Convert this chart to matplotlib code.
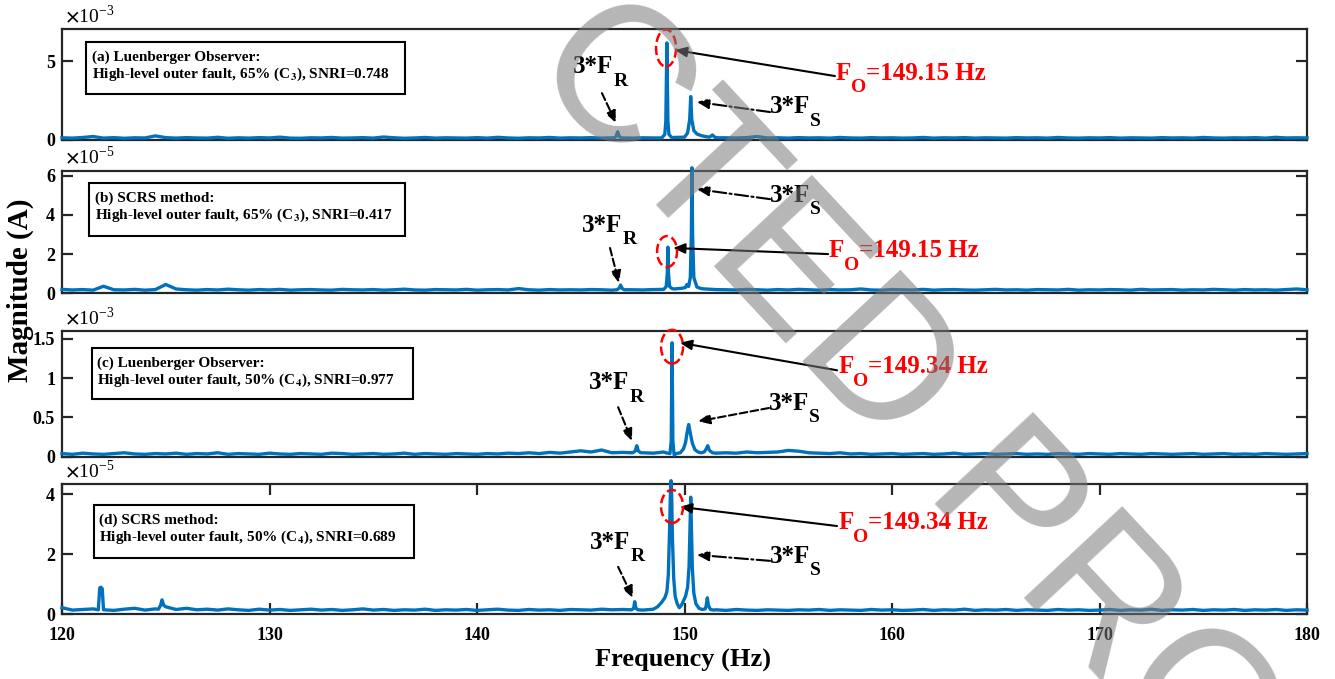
import numpy as np
import matplotlib
matplotlib.use('Agg')
import matplotlib.pyplot as plt
from matplotlib.patches import Ellipse, Rectangle

plt.rcParams['font.family'] = 'Liberation Serif'
plt.rcParams['font.weight'] = 'bold'
plt.rcParams['mathtext.fontset'] = 'stix'

# frequency grid of the noise floor (Hz)
freq = np.arange(120, 180.01, 0.5)

# ---- panel (a): Luenberger observer, C3, units 1e-3 A
floor_a = [0.14, 0.12, 0.16, 0.22, 0.12, 0.15, 0.11, 0.14, 0.13, 0.26,
           0.15, 0.12, 0.15, 0.13, 0.12, 0.17, 0.11, 0.14, 0.12, 0.15,
           0.13, 0.18, 0.12, 0.11, 0.14, 0.13, 0.16, 0.12, 0.13, 0.15,
           0.12, 0.19, 0.14, 0.11, 0.13, 0.16, 0.12, 0.14, 0.13, 0.12,
           0.15, 0.12, 0.17, 0.13, 0.11, 0.14, 0.13, 0.16, 0.12, 0.14,
           0.13, 0.15, 0.12, 0.14, 0.13, 0.12, 0.14, 0.13, 0.12, 0.16,
           0.22, 0.40, 0.22, 0.16, 0.14, 0.13, 0.15, 0.22, 0.13, 0.14,
           0.12, 0.15, 0.13, 0.14, 0.12, 0.16, 0.13, 0.12, 0.15, 0.13,
           0.14, 0.12, 0.13, 0.16, 0.12, 0.14, 0.13, 0.15, 0.12, 0.14,
           0.13, 0.12, 0.15, 0.13, 0.14, 0.12, 0.16, 0.13, 0.12, 0.14,
           0.13, 0.15, 0.12, 0.14, 0.13, 0.12, 0.15, 0.13, 0.14, 0.12,
           0.16, 0.13, 0.12, 0.14, 0.13, 0.15, 0.12, 0.17, 0.13, 0.14,
           0.13]
peaks_a = [
    ([146.6, 146.7, 146.78, 146.86, 146.95], [0.13, 0.22, 0.52, 0.22, 0.13]),
    ([148.9, 149.05, 149.1, 149.15, 149.2, 149.25, 149.4],
     [0.13, 0.35, 1.2, 6.15, 1.2, 0.35, 0.14]),
    ([150.0, 150.15, 150.25, 150.3, 150.35, 150.45, 150.6, 150.8, 151.0, 151.2, 151.35, 151.45, 151.6],
     [0.18, 0.45, 1.3, 2.75, 1.3, 0.6, 0.38, 0.28, 0.22, 0.18, 0.32, 0.18, 0.14]),
]

# ---- panel (b): SCRS method, C3, units 1e-5 A
floor_b = [0.20, 0.17, 0.19, 0.16, 0.36, 0.18, 0.17, 0.20, 0.16, 0.19,
           0.45, 0.22, 0.18, 0.16, 0.19, 0.17, 0.21, 0.18, 0.16, 0.19,
           0.17, 0.20, 0.16, 0.18, 0.19, 0.17, 0.16, 0.20, 0.18, 0.17,
           0.19, 0.16, 0.18, 0.21, 0.17, 0.16, 0.19, 0.18, 0.17, 0.20,
           0.16, 0.18, 0.19, 0.17, 0.24, 0.18, 0.16, 0.19, 0.17, 0.18,
           0.17, 0.19, 0.18, 0.16, 0.20, 0.18, 0.17, 0.19, 0.18, 0.22,
           0.25, 0.30, 0.22, 0.19, 0.18, 0.17, 0.20, 0.18, 0.16, 0.19,
           0.17, 0.20, 0.18, 0.16, 0.19, 0.17, 0.18, 0.22, 0.17, 0.16,
           0.19, 0.18, 0.17, 0.20, 0.16, 0.18, 0.19, 0.17, 0.16, 0.18,
           0.20, 0.17, 0.18, 0.16, 0.19, 0.18, 0.17, 0.20, 0.16, 0.18,
           0.17, 0.19, 0.18, 0.16, 0.20, 0.17, 0.18, 0.19, 0.16, 0.18,
           0.17, 0.20, 0.18, 0.16, 0.19, 0.17, 0.18, 0.16, 0.19, 0.22,
           0.18]
peaks_b = [
    ([146.75, 146.85, 146.92, 147.0, 147.1], [0.18, 0.26, 0.42, 0.24, 0.18]),
    ([149.0, 149.12, 149.17, 149.2, 149.23, 149.28, 149.4],
     [0.2, 0.35, 1.0, 2.35, 1.0, 0.35, 0.24]),
    ([149.9, 150.05, 150.12, 150.2, 150.28, 150.33, 150.36, 150.39, 150.45, 150.6, 150.8],
     [0.26, 0.3, 0.45, 0.35, 0.8, 3.0, 6.4, 3.0, 0.8, 0.32, 0.24]),
]

# ---- panel (c): Luenberger observer, C4, units 1e-3 A
floor_c = [0.04, 0.03, 0.045, 0.035, 0.03, 0.04, 0.05, 0.035, 0.03, 0.04,
           0.035, 0.045, 0.03, 0.04, 0.035, 0.05, 0.03, 0.04, 0.035, 0.03,
           0.045, 0.035, 0.03, 0.04, 0.035, 0.03, 0.045, 0.04, 0.03, 0.035,
           0.04, 0.03, 0.035, 0.045, 0.03, 0.04, 0.035, 0.03, 0.04, 0.035,
           0.03, 0.04, 0.035, 0.045, 0.04, 0.05, 0.04, 0.055, 0.045, 0.06,
           0.075, 0.06, 0.085, 0.05, 0.055, 0.06, 0.05, 0.045, 0.06, 0.04,
           0.10, 0.12, 0.06, 0.045, 0.05, 0.045, 0.06, 0.05, 0.055, 0.06,
           0.08, 0.07, 0.05, 0.045, 0.04, 0.05, 0.035, 0.04, 0.03, 0.035,
           0.04, 0.03, 0.035, 0.04, 0.03, 0.035, 0.045, 0.03, 0.035, 0.04,
           0.03, 0.035, 0.04, 0.03, 0.035, 0.03, 0.04, 0.035, 0.03, 0.04,
           0.035, 0.03, 0.04, 0.035, 0.03, 0.04, 0.035, 0.03, 0.035, 0.04,
           0.03, 0.035, 0.04, 0.03, 0.035, 0.03, 0.04, 0.035, 0.03, 0.035,
           0.04]
peaks_c = [
    ([147.5, 147.62, 147.7, 147.78, 147.9], [0.05, 0.07, 0.14, 0.07, 0.05]),
    ([149.1, 149.3, 149.36, 149.4, 149.44, 149.5, 149.6],
     [0.05, 0.04, 0.2, 1.45, 0.2, 0.02, 0.04]),
    ([149.8, 149.95, 150.05, 150.12, 150.2, 150.28, 150.38, 150.5, 150.65, 150.8, 150.95, 151.05, 151.12, 151.2, 151.35],
     [0.05, 0.1, 0.18, 0.3, 0.41, 0.3, 0.17, 0.09, 0.06, 0.05, 0.06, 0.1, 0.14, 0.08, 0.05]),
]

# ---- panel (d): SCRS method, C4, units 1e-5 A
floor_d = [0.22, 0.14, 0.16, 0.18, 0.15, 0.13, 0.17, 0.20, 0.14, 0.18,
           0.25, 0.16, 0.20, 0.15, 0.17, 0.14, 0.18, 0.15, 0.13, 0.17,
           0.14, 0.16, 0.13, 0.15, 0.17, 0.14, 0.16, 0.13, 0.15, 0.18,
           0.14, 0.16, 0.13, 0.15, 0.14, 0.17, 0.13, 0.15, 0.14, 0.16,
           0.13, 0.15, 0.17, 0.14, 0.13, 0.16, 0.14, 0.15, 0.13, 0.16,
           0.15, 0.14, 0.17, 0.15, 0.16, 0.15, 0.14, 0.17, 0.20, 0.30,
           0.40, 0.30, 0.18, 0.15, 0.13, 0.16, 0.14, 0.13, 0.15, 0.14,
           0.13, 0.15, 0.14, 0.16, 0.13, 0.15, 0.14, 0.13, 0.16, 0.14,
           0.15, 0.13, 0.14, 0.16, 0.13, 0.15, 0.14, 0.17, 0.13, 0.15,
           0.14, 0.16, 0.13, 0.15, 0.14, 0.13, 0.16, 0.14, 0.15, 0.13,
           0.14, 0.16, 0.13, 0.15, 0.14, 0.17, 0.13, 0.15, 0.14, 0.16,
           0.13, 0.15, 0.14, 0.16, 0.13, 0.15, 0.14, 0.16, 0.13, 0.15,
           0.14]
peaks_d = [
    ([121.75, 121.82, 121.88, 121.94, 122.0], [0.15, 0.88, 0.9, 0.85, 0.15]),
    ([124.65, 124.75, 124.82, 124.9, 125.0], [0.17, 0.3, 0.48, 0.3, 0.25]),
    ([147.45, 147.55, 147.6, 147.66, 147.75], [0.15, 0.2, 0.42, 0.2, 0.15]),
    ([148.5, 148.7, 148.9, 149.05, 149.15, 149.22, 149.28, 149.32, 149.35, 149.38, 149.42,
      149.48, 149.55, 149.65, 149.75, 149.85, 149.95, 150.05, 150.15, 150.22, 150.27, 150.3,
      150.33, 150.38, 150.45, 150.55, 150.7, 150.85, 151.0, 151.05, 151.1, 151.15, 151.25, 151.4],
     [0.17, 0.25, 0.4, 0.55, 0.75, 1.3, 2.8, 4.0, 4.45, 4.0, 2.5,
      1.2, 0.6, 0.35, 0.22, 0.3, 0.45, 0.6, 0.9, 1.6, 3.0, 3.9,
      3.0, 1.5, 0.7, 0.35, 0.2, 0.16, 0.18, 0.3, 0.55, 0.3, 0.16, 0.14]),
]

box_titles = ['(a) Luenberger Observer:', '(b) SCRS method:',
              '(c) Luenberger Observer:', '(d) SCRS method:']
box_lines = ['High-level outer fault, 65% (C$_\\mathbf{3}$), SNRI=0.748',
             'High-level outer fault, 65% (C$_\\mathbf{3}$), SNRI=0.417',
             'High-level outer fault, 50% (C$_\\mathbf{4}$), SNRI=0.977',
             'High-level outer fault, 50% (C$_\\mathbf{4}$), SNRI=0.689']
fo_labels = ['=149.15 Hz', '=149.15 Hz', '=149.34 Hz', '=149.34 Hz']
exponents = ['-3', '-5', '-3', '-5']
ylims = [7.03, 6.25, 1.6, 4.33]
yticks = [[0, 5], [0, 2, 4, 6], [0, 0.5, 1, 1.5], [0, 2, 4]]
xticks = [120, 130, 140, 150, 160, 170, 180]


def build(floor, peaks):
    f = freq
    m = np.array(floor)
    keep = np.ones(len(f), bool)
    for pf, pm in peaks:
        keep &= ~((f >= pf[0]) & (f <= pf[-1]))
    ff = np.concatenate([f[keep]] + [np.array(p[0]) for p in peaks])
    mm = np.concatenate([m[keep]] + [np.array(p[1]) for p in peaks])
    o = np.argsort(ff)
    return ff[o], mm[o]


W, H = 1335, 679
fig = plt.figure(figsize=(W / 100, H / 100), dpi=100)
renderer = fig.canvas.get_renderer()


def sub_label(ax, x, y, parts, color, size=18):
    # parts: (string, is_subscript); placed one after the other, MATLAB style
    dx = 0.0
    for s, is_sub in parts:
        t = ax.annotate(s, xy=(x, y), xycoords='data',
                        xytext=(dx * 0.72, -9 if is_sub else 0), textcoords='offset points',
                        fontsize=size * 0.78 if is_sub else size, color=color,
                        ha='left', va='baseline', annotation_clip=False)
        dx += t.get_window_extent(renderer).width - (1 if is_sub else 0)


# axes rectangles in pixels: (top, bottom)
rows = [(29, 140), (170.7, 293.3), (331, 456.7), (484.3, 614.3)]
x_left, x_right = 62, 1307

# annotation positions per panel (data coords)
ann = [
    dict(ell=(149.11, 5.82, 0.96, 2.34), fo_txt=(157.3, 3.8), fo_arr=((157.25, 4.05), (149.54, 5.7)),
         fr_txt=(144.63, 4.24), fr_arr=((146.02, 2.97), (146.7, 1.08)),
         fs_txt=(154.12, 1.71), fs_arr=((154.12, 1.77), (150.6, 2.41)), fs_ls='-.'),
    dict(ell=(149.16, 2.13, 0.96, 1.58), fo_txt=(156.96, 1.85), fo_arr=((156.92, 2.0), (149.45, 2.31)),
         fr_txt=(145.06, 3.13), fr_arr=((146.41, 2.31), (146.84, 0.53)),
         fs_txt=(154.12, 4.66), fs_arr=((154.12, 4.8), (150.6, 5.31)), fs_ls='-.'),
    dict(ell=(149.4, 1.40, 1.06, 0.43), fo_txt=(157.4, 1.06), fo_arr=((157.35, 1.10), (149.78, 1.45)),
         fr_txt=(145.4, 0.86), fr_arr=((146.8, 0.63), (147.47, 0.2)),
         fs_txt=(154.07, 0.60), fs_arr=((154.07, 0.62), (150.65, 0.45)), fs_ls='--'),
    dict(ell=(149.4, 3.59, 1.06, 1.1), fo_txt=(157.4, 2.84), fo_arr=((157.35, 2.94), (149.78, 3.58)),
         fr_txt=(145.45, 2.18), fr_arr=((146.8, 1.58), (147.52, 0.54)),
         fs_txt=(154.12, 1.71), fs_arr=((154.12, 1.78), (150.6, 1.98)), fs_ls='-.'),
]

boxes = [(86, 42, 405, 94, 92), (89, 183, 405, 236, 95),
         (92, 348, 413, 399, 97), (94, 505, 414, 558, 99)]

floors = [floor_a, floor_b, floor_c, floor_d]
peaks = [peaks_a, peaks_b, peaks_c, peaks_d]
head = '-|>,head_length=0.7,head_width=0.3'

for i in range(4):
    top, bot = rows[i]
    ax = fig.add_axes([x_left / W, 1 - bot / H, (x_right - x_left) / W, (bot - top) / H])
    f, m = build(floors[i], peaks[i])
    ax.plot(f, m, color='#0072BD', lw=2.4, zorder=3, clip_on=False)
    ax.set_xlim(120, 180)
    ax.set_ylim(0, ylims[i])
    ax.set_yticks(yticks[i])
    ax.set_yticklabels(['%g' % v for v in yticks[i]])
    for s in ax.spines.values():
        s.set_linewidth(1.6)
        s.set_color('#262626')
    ax.tick_params(axis='y', direction='in', length=8, width=1.6, right=True,
                   labelsize=13, pad=5, color='#262626')
    if i == 3:
        ax.set_xticks(xticks)
        ax.tick_params(axis='x', direction='in', length=8, width=1.6, top=True,
                       labelsize=13, pad=9, color='#262626')
    else:
        ax.set_xticks([])

    ax.annotate(r'$\times$10$^{\mathregular{' + exponents[i] + '}}$', xy=(0, 1),
                xycoords='axes fraction', xytext=(2, 2), textcoords='offset points',
                ha='left', va='bottom', fontsize=14, fontweight='normal')

    a = ann[i]
    ex, ey, ew, eh = a['ell']
    ax.add_patch(Ellipse((ex, ey), ew, eh, fill=False, edgecolor='red',
                         linestyle='--', lw=1.8, zorder=4, clip_on=False))
    sub_label(ax, a['fo_txt'][0], a['fo_txt'][1],
              [('F', False), ('O', True), (fo_labels[i], False)], 'red')
    ax.annotate('', xy=a['fo_arr'][1], xytext=a['fo_arr'][0],
                arrowprops=dict(arrowstyle=head, color='k', lw=1.5, shrinkA=0, shrinkB=0))
    sub_label(ax, a['fr_txt'][0], a['fr_txt'][1], [('3*F', False), ('R', True)], 'k')
    ax.annotate('', xy=a['fr_arr'][1], xytext=a['fr_arr'][0],
                arrowprops=dict(arrowstyle=head, color='k', lw=1.5, ls='--', shrinkA=0, shrinkB=0))
    sub_label(ax, a['fs_txt'][0], a['fs_txt'][1], [('3*F', False), ('S', True)], 'k')
    ax.annotate('', xy=a['fs_arr'][1], xytext=a['fs_arr'][0],
                arrowprops=dict(arrowstyle=head, color='k', lw=1.5, ls=a['fs_ls'],
                                shrinkA=0, shrinkB=0))

    x0, y0, x1, y1, tx = boxes[i]
    fig.add_artist(Rectangle((x0 / W, 1 - y1 / H), (x1 - x0) / W, (y1 - y0) / H,
                             transform=fig.transFigure, facecolor='white',
                             edgecolor='k', lw=1.5, zorder=2))
    fig.text(tx / W, 1 - (y0 + 19) / H, box_titles[i], ha='left', va='baseline',
             fontsize=11, zorder=3)
    fig.text(tx / W, 1 - (y0 + 36) / H, box_lines[i], ha='left', va='baseline',
             fontsize=11, zorder=3)

fig.text(20 / W, 1 - 290 / H, 'Magnitude (A)', rotation=90, ha='center',
         va='center', fontsize=21)
fig.text(683 / W, 1 - 660 / H, 'Frequency (Hz)', ha='center', va='center',
         fontsize=19)

# watermark
fig.text(525 / W, 1 - 65 / H, 'CTED PROOF', rotation=-47, rotation_mode='anchor',
         ha='left', va='baseline', fontsize=140, family='Liberation Sans',
         fontweight='normal', color='#7a7a7a', alpha=0.55, zorder=10)

fig.savefig('out.png', dpi=100)
